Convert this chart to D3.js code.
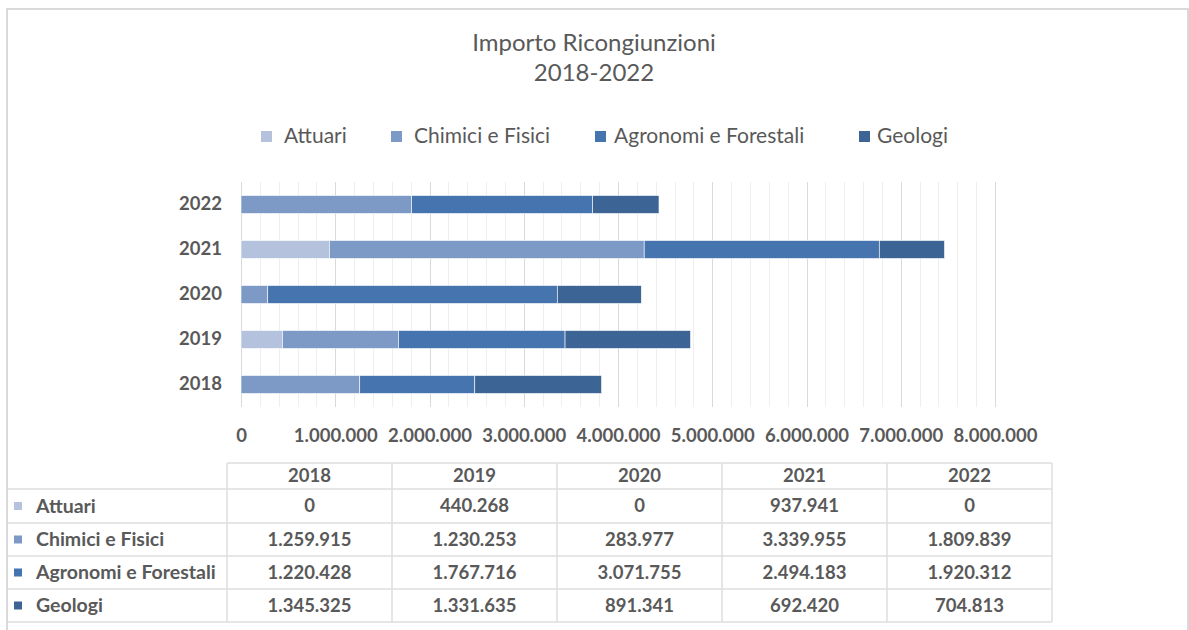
<!DOCTYPE html>
<html lang="it">
<head>
<meta charset="utf-8" />
<title>Importo Ricongiunzioni 2018-2022</title>
<script src="https://cdn.jsdelivr.net/npm/d3@7/dist/d3.min.js"></script>
<style>
  body { margin: 0; background: #fff; }
  svg text { font-family: Lato, "Open Sans", sans-serif; fill: #595959; }
  .title { font-size: 24px; }
  .legend text { font-size: 21px; }
  .axis text { font-size: 18.5px; font-weight: bold; }
  .axis path, .axis line { display: none; }
  .grid-minor { stroke: #eeeeee; stroke-width: 1px; }
  .grid-major { stroke: #d9d9d9; stroke-width: 1px; }
  .bar { stroke: #ffffff; stroke-width: 0.6px; }
  .tbl line { stroke: #dedede; stroke-width: 1.5px; }
  .tbl text { font-size: 18.5px; font-weight: bold; }
  .tbl text.rowlabel { font-size: 19.5px; }
</style>
</head>
<body>
<script>
  var years = ["2018", "2019", "2020", "2021", "2022"];
  var seriesNames = ["Attuari", "Chimici e Fisici", "Agronomi e Forestali", "Geologi"];
  var attuari = [0, 440268, 0, 937941, 0];
  var chimici = [1259915, 1230253, 283977, 3339955, 1809839];
  var agronomi = [1220428, 1767716, 3071755, 2494183, 1920312];
  var geologi = [1345325, 1331635, 891341, 692420, 704813];
  var colors = ["#b4c2dd", "#7d9ac6", "#4674ae", "#3c6494"];
  var xTicks = [0, 1000000, 2000000, 3000000, 4000000, 5000000, 6000000, 7000000, 8000000];

  var w = 1189;
  var h = 630;
  var plot = { left: 241, right: 995, top: 182, bottom: 407 };

  var seriesValues = [attuari, chimici, agronomi, geologi];
  var rows = years.map(function(y, i) {
    var r = { year: y };
    seriesNames.forEach(function(s, j) { r[s] = seriesValues[j][i]; });
    return r;
  });

  var it = d3.formatLocale({ decimal: ",", thousands: ".", grouping: [3], currency: ["", "€"] });
  var fmt = it.format(",");

  var svg = d3.select("body").append("svg")
    .attr("width", w)
    .attr("height", h);

  svg.append("rect")
    .attr("width", w).attr("height", h)
    .attr("fill", "#fff");

  // outer chart border
  svg.append("rect")
    .attr("x", 7).attr("y", 9)
    .attr("width", 1181).attr("height", 700)
    .attr("fill", "none")
    .attr("stroke", "#d9d9d9")
    .attr("stroke-width", 2);

  // title
  svg.append("text")
    .attr("class", "title")
    .attr("x", 594).attr("y", 51)
    .attr("text-anchor", "middle")
    .text("Importo Ricongiunzioni");
  svg.append("text")
    .attr("class", "title")
    .attr("x", 594).attr("y", 81)
    .attr("text-anchor", "middle")
    .text("2018-2022");

  // legend
  var legendKeyX = [261, 391, 595, 859];
  var legendTextX = [284, 414, 614, 877];
  var legend = svg.append("g").attr("class", "legend");
  seriesNames.forEach(function(s, i) {
    legend.append("rect")
      .attr("x", legendKeyX[i]).attr("y", 131)
      .attr("width", 11).attr("height", 11)
      .attr("fill", colors[i]);
    legend.append("text")
      .attr("x", legendTextX[i]).attr("y", 143)
      .text(s);
  });

  var xScale = d3.scaleLinear()
    .domain([0, 8000000])
    .range([plot.left, plot.right]);

  var yScale = d3.scaleBand()
    .domain(years.slice().reverse())
    .range([plot.top, plot.bottom])
    .paddingInner(0.6)
    .paddingOuter(0.3);

  // gridlines
  svg.append("g")
    .selectAll("line")
    .data(d3.range(0, 8000001, 200000).filter(function(v) { return v % 1000000 !== 0; }))
    .enter().append("line")
    .attr("class", "grid-minor")
    .attr("x1", function(d) { return Math.round(xScale(d)) + 0.5; })
    .attr("x2", function(d) { return Math.round(xScale(d)) + 0.5; })
    .attr("y1", plot.top).attr("y2", plot.bottom);

  svg.append("g")
    .selectAll("line")
    .data(xTicks)
    .enter().append("line")
    .attr("class", "grid-major")
    .attr("x1", function(d) { return Math.round(xScale(d)) + 0.5; })
    .attr("x2", function(d) { return Math.round(xScale(d)) + 0.5; })
    .attr("y1", plot.top).attr("y2", plot.bottom);

  // stacked bars
  var stack = d3.stack().keys(seriesNames);
  var layers = stack(rows);

  svg.append("g")
    .selectAll("g")
    .data(layers)
    .enter().append("g")
    .attr("fill", function(d, i) { return colors[i]; })
    .selectAll("rect")
    .data(function(d) { return d.filter(function(p) { return p[1] > p[0]; }); })
    .enter().append("rect")
    .attr("class", "bar")
    .attr("x", function(d) { return xScale(d[0]); })
    .attr("y", function(d) { return yScale(d.data.year); })
    .attr("width", function(d) { return xScale(d[1]) - xScale(d[0]); })
    .attr("height", yScale.bandwidth());

  // axes
  svg.append("g")
    .attr("class", "axis")
    .attr("transform", "translate(0," + plot.bottom + ")")
    .call(d3.axisBottom(xScale).tickValues(xTicks).tickFormat(fmt).tickSize(0).tickPadding(22));

  svg.append("g")
    .attr("class", "axis")
    .attr("transform", "translate(" + plot.left + ",0)")
    .call(d3.axisLeft(yScale).tickSize(0).tickPadding(19));

  // data table
  var tbl = svg.append("g").attr("class", "tbl");
  var colX = d3.scaleBand().domain(years).range([227, 1052]);
  var rowY = [463, 489, 523, 556, 589, 622];

  tbl.append("line")
    .attr("x1", 227).attr("x2", 1052)
    .attr("y1", rowY[0]).attr("y2", rowY[0]);
  rowY.slice(1).forEach(function(y) {
    tbl.append("line")
      .attr("x1", 8).attr("x2", 1052)
      .attr("y1", y).attr("y2", y);
  });
  years.concat(["end"]).forEach(function(y, i) {
    var x = i < years.length ? colX(y) : 1052;
    tbl.append("line")
      .attr("x1", x).attr("x2", x)
      .attr("y1", rowY[0]).attr("y2", rowY[5]);
  });

  years.forEach(function(y) {
    tbl.append("text")
      .attr("x", colX(y) + colX.bandwidth() / 2)
      .attr("y", (rowY[0] + rowY[1]) / 2)
      .attr("dy", "0.35em")
      .attr("text-anchor", "middle")
      .text(y);
  });

  seriesNames.forEach(function(s, j) {
    var cy = (rowY[j + 1] + rowY[j + 2]) / 2;
    tbl.append("rect")
      .attr("x", 14).attr("y", cy - 4)
      .attr("width", 8).attr("height", 8)
      .attr("fill", colors[j]);
    tbl.append("text")
      .attr("class", "rowlabel")
      .attr("x", 36).attr("y", cy)
      .attr("dy", "0.35em")
      .text(s);
    years.forEach(function(y, i) {
      tbl.append("text")
        .attr("x", colX(y) + colX.bandwidth() / 2)
        .attr("y", cy)
        .attr("dy", "0.35em")
        .attr("text-anchor", "middle")
        .text(fmt(seriesValues[j][i]));
    });
  });
</script>
</body>
</html>
